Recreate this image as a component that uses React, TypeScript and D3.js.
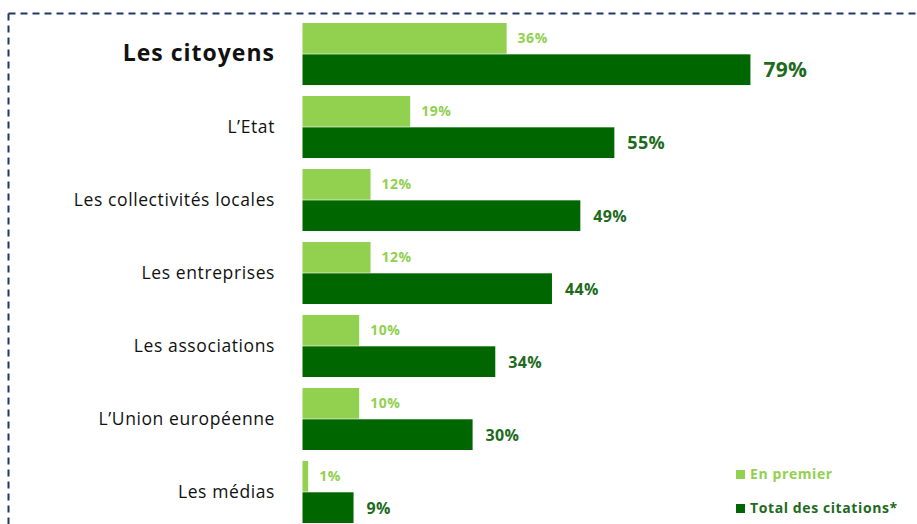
import React from "react";
import * as d3 from "d3";

const categories = [
  "Les citoyens",
  "L\u2019Etat",
  "Les collectivités locales",
  "Les entreprises",
  "Les associations",
  "L\u2019Union européenne",
  "Les médias",
];
const enPremier = [36, 19, 12, 12, 10, 10, 1];
const totalCitations = [79, 55, 49, 44, 34, 30, 9];
const seriesNames = ["En premier", "Total des citations*"];
const seriesColors = ["#92d050", "#006600"];
const labelColors = ["#92d050", "#1e6b1e"];
const totalLabelSizes = [21, 18, 16, 16, 16, 16, 16];

const W = 917;
const H = 524;
const FONT = "'Open Sans', Lato, sans-serif";

export default function App() {
  const x = d3.scaleLinear().domain([0, 100]).range([302.5, 869.5]);
  const y = d3
    .scaleBand<string>()
    .domain(categories)
    .range([23, 523])
    .paddingInner(0.15)
    .paddingOuter(0);
  const inner = d3
    .scaleBand<string>()
    .domain(seriesNames)
    .range([0, y.bandwidth()])
    .paddingInner(0.02);

  return (
    <svg
      width={W}
      height={H}
      style={{ position: "absolute", left: 0, top: 0, background: "#fff" }}
      fontFamily={FONT}
    >
      <line x1={8.5} x2={W} y1={13.5} y2={13.5} stroke="#203864" strokeWidth={2} strokeDasharray="7,5" />
      <line x1={8.5} x2={8.5} y1={13.5} y2={H} stroke="#203864" strokeWidth={2} strokeDasharray="7,5" />
      {categories.map((c, i) => {
        const y0 = y(c) ?? 0;
        const vals = [enPremier[i], totalCitations[i]];
        return (
          <g key={c}>
            <text
              x={275}
              y={y0 + y.bandwidth() / 2 + 1}
              textAnchor="end"
              dominantBaseline="middle"
              fontSize={i === 0 ? 23 : 17.5}
              letterSpacing={i === 0 ? 1 : 0.6}
              fontWeight={i === 0 ? 700 : 400}
              fill="#111"
            >
              {c}
            </text>
            {vals.map((v, j) => {
              const s = seriesNames[j];
              const by = y0 + (inner(s) ?? 0);
              const bh = inner.bandwidth();
              return (
                <g key={s}>
                  <rect x={x(0)} y={by} width={x(v) - x(0)} height={bh} fill={seriesColors[j]} />
                  <text
                    x={x(v) + (j === 0 ? 11 : 13)}
                    y={by + bh / 2 + (j === 0 ? 1 : 2)}
                    dominantBaseline="middle"
                    fontSize={j === 0 ? 14 : totalLabelSizes[i]}
                    letterSpacing={j === 0 ? 0.5 : 0.3}
                    fontWeight={700}
                    fill={labelColors[j]}
                  >
                    {v}%
                  </text>
                </g>
              );
            })}
          </g>
        );
      })}
      {seriesNames.map((s, j) => (
        <g key={s} transform={`translate(736, ${475 + j * 34})`}>
          <rect x={0} y={-5} width={9} height={9} fill={seriesColors[j]} />
          <text
            x={14}
            y={0}
            dominantBaseline="middle"
            fontSize={14}
            letterSpacing={0.6}
            fontWeight={700}
            fill={labelColors[j]}
          >
            {s}
          </text>
        </g>
      ))}
    </svg>
  );
}
